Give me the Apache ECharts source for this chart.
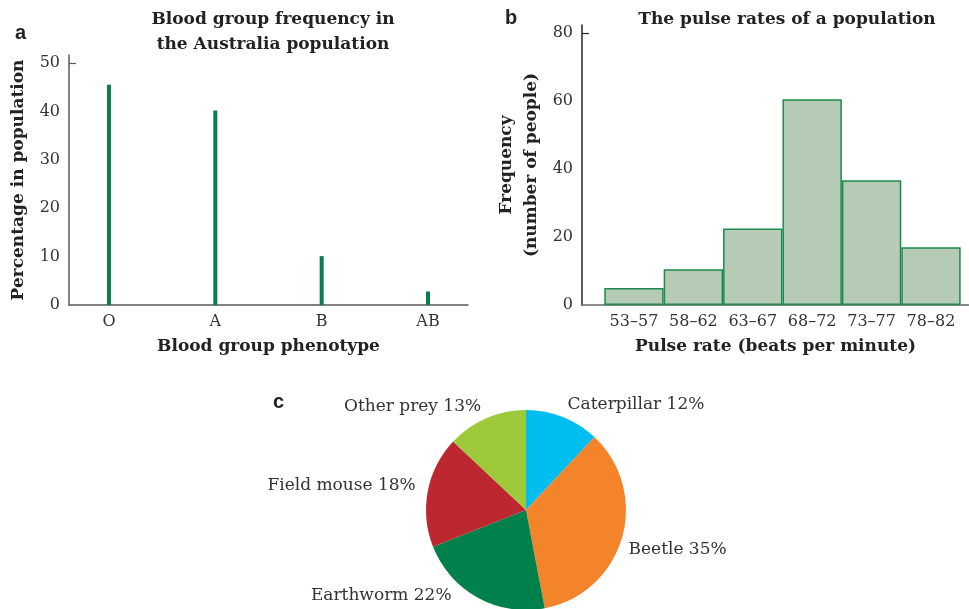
<!DOCTYPE html>
<html>
<head>
<meta charset="utf-8">
<script src="https://cdn.jsdelivr.net/npm/echarts@6/dist/echarts.min.js"></script>
<style>html,body{margin:0;padding:0;background:#fff}#c{width:969px;height:609px}</style>
</head>
<body>
<div id="c"></div>
<script>
// Panel a
var bloodGroups = ['O', 'A', 'B', 'AB'];
var bloodPct = [45.5, 40.2, 10.1, 2.8];
var bloodTicks = [0, 10, 20, 30, 40, 50];
// Panel b
var pulseBins = ['53–57', '58–62', '63–67', '68–72', '73–77', '78–82'];
var pulseFreq = [5, 10.5, 22.5, 60.5, 36.7, 17];
var pulseTicks = [0, 20, 40, 60, 80];
// Panel c
var preyNames = ['Caterpillar', 'Beetle', 'Earthworm', 'Field mouse', 'Other prey'];
var preyPct = [12, 35, 22, 18, 13];
var preyColors = ['#00BDF0', '#F4842A', '#00804A', '#BD2830', '#9DC93B'];

var serif = '"DejaVu Serif", "Liberation Serif", serif';
var sans = '"Liberation Sans", Arial, sans-serif';
var txt = '#333';
var dark = '#222';

var chart = echarts.init(document.getElementById('c'), null, {renderer: 'canvas'});

var idx = function (arr) { return arr.map(function (_, i) { return i; }); };
var boldText = {fontFamily: serif, fontWeight: 'bold', fontSize: 17, color: dark};
var letterText = {fontFamily: sans, fontWeight: 'bold', fontSize: 20, color: dark};

chart.setOption({
  animation: false,
  backgroundColor: '#fff',
  title: [
    {text: 'Blood group frequency in\nthe Australia population', left: 268, top: 2, textAlign: 'center',
      textStyle: Object.assign({}, boldText, {lineHeight: 25})},
    {text: 'The pulse rates of a population', left: 782, top: 6, textAlign: 'center',
      textStyle: boldText},
    {text: 'a', left: 10, top: 18, textStyle: letterText},
    {text: 'b', left: 500, top: 3, textStyle: letterText},
    {text: 'c', left: 268, top: 387, textStyle: letterText}
  ],
  grid: [
    {left: 69, right: 501, top: 55, bottom: 304, containLabel: false},
    {left: 582, right: 0, top: 25, bottom: 304, containLabel: false}
  ],
  xAxis: [
    {type: 'value', gridIndex: 0, min: -0.376, max: 3.376,
      splitLine: {show: false},
      axisLine: {show: true, onZero: false, lineStyle: {color: '#5a5a5a', width: 1.5}},
      axisTick: {show: false},
      axisLabel: {customValues: idx(bloodGroups), formatter: function (v) { return bloodGroups[Math.round(v)]; },
        fontFamily: serif, fontSize: 16, color: txt, margin: 9},
      name: 'Blood group phenotype', nameLocation: 'middle', nameGap: 33,
      nameTextStyle: boldText},
    {type: 'value', gridIndex: 1, min: -0.875, max: 5.64,
      splitLine: {show: false},
      axisLine: {show: true, onZero: false, lineStyle: {color: '#666', width: 1.5}},
      axisTick: {show: false},
      axisLabel: {customValues: idx(pulseBins), formatter: function (v) { return pulseBins[Math.round(v)]; },
        fontFamily: serif, fontSize: 16, color: txt, margin: 9},
      name: 'Pulse rate (beats per minute)', nameLocation: 'middle', nameGap: 33,
      nameTextStyle: boldText}
  ],
  yAxis: [
    {type: 'value', gridIndex: 0, min: 0, max: 51.65,
      splitLine: {show: false},
      axisLine: {show: true, onZero: false, lineStyle: {color: '#5a5a5a', width: 1.5}},
      axisTick: {show: true, inside: true, length: 7, customValues: [50], lineStyle: {color: '#5a5a5a', width: 1.2}},
      axisLabel: {customValues: bloodTicks, fontFamily: serif, fontSize: 16, color: txt, margin: 9},
      name: 'Percentage in population', nameLocation: 'middle', nameGap: 42, nameRotate: 90,
      nameTextStyle: boldText},
    {type: 'value', gridIndex: 1, min: 0, max: 82.35,
      splitLine: {show: false},
      axisLine: {show: true, onZero: false, lineStyle: {color: dark, width: 1.5}},
      axisTick: {show: true, inside: true, length: 7, customValues: [80], lineStyle: {color: dark, width: 1.2}},
      axisLabel: {customValues: pulseTicks, fontFamily: serif, fontSize: 16, color: txt, margin: 9},
      name: 'Frequency\n(number of people)', nameLocation: 'middle', nameGap: 38, nameRotate: 90,
      nameTextStyle: Object.assign({}, boldText, {lineHeight: 25})}
  ],
  series: [
    {type: 'bar', xAxisIndex: 0, yAxisIndex: 0, barWidth: 4,
      itemStyle: {color: '#0B7D47'},
      data: bloodPct.map(function (v, i) { return [i, v]; })},
    {type: 'bar', xAxisIndex: 1, yAxisIndex: 1, barWidth: '100%',
      itemStyle: {color: '#B5CBB6', borderColor: '#1E8A4E', borderWidth: 1.5},
      data: pulseFreq.map(function (v, i) { return [i, v]; })},
    {type: 'pie', center: [526, 510], radius: 100, startAngle: 90, clockwise: true,
      silent: true,
      label: {show: true, position: 'outside', fontFamily: serif, fontSize: 17, color: txt,
        distanceToLabelLine: 0,
        formatter: function (p) { return p.name + ' ' + p.value + '%'; }},
      labelLine: {show: false, length: 13, length2: 0},
      labelLayout: function (p) {
        if (p.dataIndex === 2) { return {dx: -20, dy: -4}; }
        if (p.dataIndex === 1) { return {dx: -6, dy: 8}; }
      },
      itemStyle: {borderWidth: 0},
      data: preyNames.map(function (n, i) { return {name: n, value: preyPct[i], itemStyle: {color: preyColors[i]}}; })}
  ]
});
</script>
</body>
</html>
